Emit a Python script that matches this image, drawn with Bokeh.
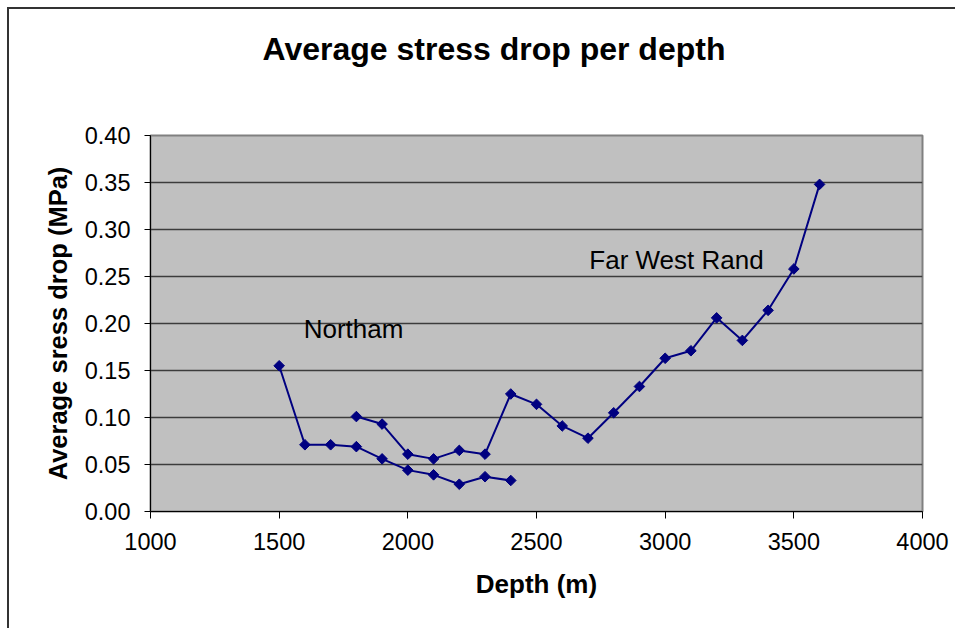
import math
from bokeh.plotting import figure
from bokeh.models import Range1d, FixedTicker, Label, Title, CustomJSTickFormatter
from bokeh.embed import file_html
from bokeh.resources import INLINE

# Northam series
northam_depth = [1500, 1600, 1700, 1800, 1900, 2000, 2100, 2200, 2300, 2400]
northam_stress = [0.155, 0.071, 0.071, 0.069, 0.056, 0.044, 0.039, 0.029, 0.037, 0.033]

# Far West Rand series
fwr_depth = [1800, 1900, 2000, 2100, 2200, 2300, 2400, 2500, 2600, 2700, 2800,
             2900, 3000, 3100, 3200, 3300, 3400, 3500, 3600]
fwr_stress = [0.101, 0.093, 0.061, 0.056, 0.065, 0.061, 0.125, 0.114, 0.091, 0.078, 0.105,
              0.133, 0.163, 0.171, 0.206, 0.182, 0.214, 0.258, 0.348]

x_ticks = [1000, 1500, 2000, 2500, 3000, 3500, 4000]
y_ticks = [0.0, 0.05, 0.10, 0.15, 0.20, 0.25, 0.30, 0.35, 0.40]

FONT = "Liberation Sans"
NAVY = "#000080"

p = figure(width=948, height=621, output_backend="svg", toolbar_location=None,
           x_range=Range1d(1000, 4000), y_range=Range1d(0, 0.40),
           min_border_left=141, min_border_right=35, min_border_top=126,
           min_border_bottom=119)
p.styles = {"margin-left": "7px", "margin-top": "7px",
            "border-left": "2px solid #333333", "border-top": "2px solid #333333"}

p.title = None
spacer = Title(text=" ", text_font=FONT, text_font_size="46px", text_color="white")
p.add_layout(spacer, "above")
p.add_layout(Title(text="Average stress drop per depth", align="left", offset=112,
                   text_font=FONT, text_font_size="32px", text_font_style="bold",
                   text_color="black"), "above")

p.background_fill_color = "#C0C0C0"
p.border_fill_color = "white"
p.outline_line_color = "#808080"
p.outline_line_width = 2

p.xgrid.grid_line_color = None
p.ygrid.grid_line_color = "#3c3c3c"
p.ygrid.grid_line_width = 1.3
p.ygrid.ticker = FixedTicker(ticks=y_ticks)

p.xaxis.ticker = FixedTicker(ticks=x_ticks)
p.yaxis.ticker = FixedTicker(ticks=y_ticks)
p.yaxis.formatter = CustomJSTickFormatter(code="return tick.toFixed(2);")

for ax in (p.xaxis, p.yaxis):
    ax.axis_line_color = "black"
    ax.axis_line_width = 1
    ax.major_tick_line_color = "black"
    ax.major_tick_in = 0
    ax.minor_tick_line_color = None
    ax.major_label_text_font = FONT
    ax.major_label_text_font_size = "23.5px"
    ax.major_label_text_color = "black"
    ax.axis_label_text_font = FONT
    ax.axis_label_text_font_size = "26px"
    ax.axis_label_text_font_style = "bold"
    ax.axis_label_text_color = "black"

p.yaxis.axis_label_text_font_size = "25.5px"
p.xaxis.major_tick_out = 7
p.yaxis.major_tick_out = 6
p.xaxis.major_label_standoff = 14
p.yaxis.major_label_standoff = 14
p.xaxis.axis_label = "Depth (m)"
p.yaxis.axis_label = "Average sress drop (MPa)"
p.xaxis.axis_label_standoff = 16
p.yaxis.axis_label_standoff = 10

p.line(northam_depth, northam_stress, line_color=NAVY, line_width=2)
p.scatter(northam_depth, northam_stress, marker="square", size=7.5, angle=math.pi / 4,
          fill_color=NAVY, line_color=NAVY)
p.line(fwr_depth, fwr_stress, line_color=NAVY, line_width=2)
p.scatter(fwr_depth, fwr_stress, marker="square", size=7.5, angle=math.pi / 4,
          fill_color=NAVY, line_color=NAVY)

p.add_layout(Label(x=1789, y=0.194, text="Northam", text_font=FONT,
                   text_font_size="26px", text_color="black",
                   text_align="center", text_baseline="middle"))
p.add_layout(Label(x=3044, y=0.268, text="Far West Rand", text_font=FONT,
                   text_font_size="26px", text_color="black",
                   text_align="center", text_baseline="middle"))

with open("out.html", "w") as f:
    f.write(file_html(p, INLINE))
